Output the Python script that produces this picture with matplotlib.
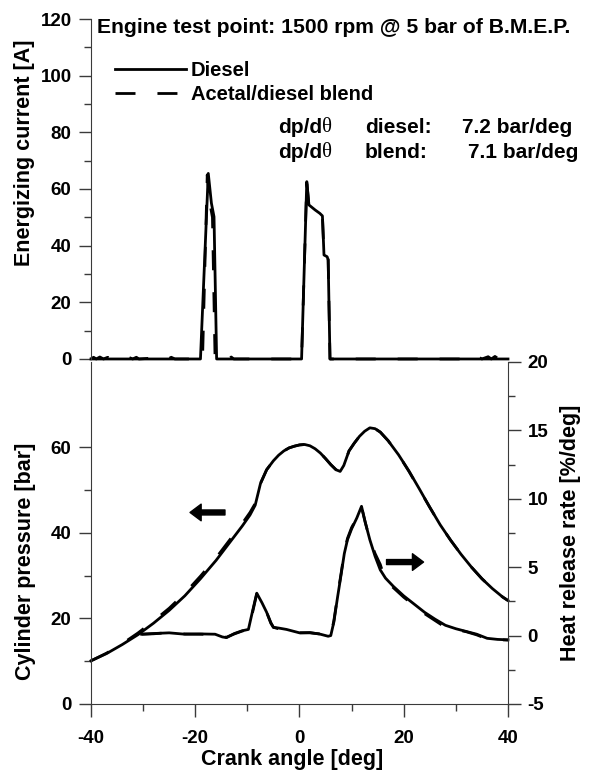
import matplotlib
matplotlib.use('Agg')
import matplotlib.pyplot as plt
from matplotlib.lines import Line2D

plt.rcParams['font.family'] = ['Liberation Sans', 'DejaVu Sans']
plt.rcParams['font.weight'] = 'bold'
plt.rcParams['axes.unicode_minus'] = False

# energizing current [A] vs crank angle [deg]
cur_x_diesel = [-40, -19.0, -17.5, -16.9, -16.4, -15.9, 0.4, 1.4, 1.8, 3.0, 3.9, 4.4, 4.7, 5.3, 5.5, 5.85, 40]
cur_y_diesel = [0, 0, 65.5, 55, 50.2, 0, 0, 62.6, 54.4, 52.6, 51.4, 50.5, 36.7, 36.1, 35.0, 0, 0]

cur_x_blend = [-40, -39.5, -39, -38.3, -37.6, -36.8, -36, -35, -34.6, -32.8, -32, -31.3, -30.8,
               -25.8, -25.2, -24.6, -23.9, -18.6, -17.7, -17.2, -16.7, -16.2, -14.5, -14, -13.5,
               -13.1, -12.6, 0.4, 1.4, 1.8, 3.0, 3.9, 4.4, 4.7, 5.3, 5.5, 5.85, 32.3, 33, 33.6,
               34.3, 35, 36.2, 36.8, 37.5, 38.2, 39, 40]
cur_y_blend = [0, 0.6, 0, 0.7, 0, 0.6, 0, 0.5, 0, 0.6, 0, 0.6, 0,
               0.6, 0, 0.6, 0, 0, 65, 55, 50, 0, 0, 0.7, 0,
               0.7, 0, 0, 62.6, 54.4, 52.6, 51.4, 50.5, 36.7, 36.1, 35.0, 0, 0, 0.7, 0,
               0.7, 0, 0.8, 0, 0.9, 0, 0.7, 0]

# cylinder pressure [bar]
p_x = [-40, -37, -34, -31, -28, -25, -22, -19, -16, -13, -11, -9.5, -8.5, -8.0, -7.5, -6.3,
       -5, -4, -3, -2, -1, 0, 1, 2, 3, 4, 5, 6, 7, 7.8, 8.5, 9.5, 10.5, 11.5, 12.5, 13.5,
       14.5, 15.5, 17, 19, 21, 23, 25, 27, 29, 31, 33, 35, 37, 39, 40]
p_diesel = [10.1, 11.8, 13.9, 16.2, 18.9, 21.9, 25.3, 29.3, 33.6, 38.4, 41.6, 44.2, 46.5, 49.0,
            51.5, 54.8, 56.9, 58.2, 59.2, 59.9, 60.3, 60.6, 60.7, 60.4, 59.7, 58.7, 57.4, 56.0,
            54.8, 54.4, 55.8, 59.2, 61.0, 62.6, 63.8, 64.6, 64.4, 63.6, 61.6, 58.3, 54.5, 50.3,
            46.0, 41.9, 38.3, 35.0, 32.0, 29.3, 27.0, 25.0, 24.2]
p_blend = [10.1, 11.9, 14.1, 16.6, 19.4, 22.4, 25.9, 29.9, 34.2, 39.0, 42.2, 44.8, 46.9, 49.2,
           51.6, 54.8, 56.9, 58.2, 59.2, 59.9, 60.3, 60.6, 60.7, 60.4, 59.7, 58.7, 57.4, 56.0,
           54.8, 54.5, 55.9, 59.2, 61.0, 62.6, 63.8, 64.5, 64.4, 63.6, 61.6, 58.3, 54.4, 50.2,
           46.0, 41.9, 38.3, 35.0, 32.0, 29.3, 27.0, 25.0, 24.2]

# heat release rate [%/deg]
h_x = [-30.3, -28, -25, -22, -19, -16.2, -14.8, -14, -12.5, -11, -9.8, -9.0, -8.2, -7.2, -6.3,
       -5.5, -5.0, -4, -2.5, 0, 2, 4, 5.5, 6.0, 6.6, 7.3, 8.0, 8.6, 9.2, 10, 11, 11.9, 12.6,
       13.5, 14.5, 15.5, 16.5, 18, 20, 22, 24, 26, 28, 30, 32, 34, 36, 38, 40]
h_diesel = [0.10, 0.15, 0.20, 0.10, 0.12, 0.10, -0.10, -0.15, 0.15, 0.35, 0.45, 1.8, 3.1, 2.4,
            1.7, 0.9, 0.6, 0.55, 0.45, 0.2, 0.22, 0.1, -0.05, 0.0, 1.0, 2.8, 4.5, 6.0, 7.0,
            7.8, 8.6, 9.45, 8.3, 7.0, 5.8, 4.8, 4.2, 3.6, 2.9, 2.3, 1.7, 1.2, 0.75, 0.5, 0.3,
            0.1, -0.2, -0.28, -0.31]
h_blend = [0.10, 0.13, 0.22, 0.12, 0.10, 0.08, -0.08, -0.12, 0.12, 0.33, 0.45, 1.7, 3.05, 2.35,
           1.7, 0.95, 0.6, 0.5, 0.45, 0.2, 0.2, 0.12, -0.03, 0.0, 1.1, 2.9, 4.6, 6.1, 7.1,
           7.9, 8.6, 9.4, 8.3, 7.0, 6.0, 5.2, 4.0, 3.5, 2.8, 2.2, 1.6, 1.1, 0.6, 0.45, 0.28,
           0.05, -0.25, -0.3, -0.33]

LW = 2.0
DASH = (7.2, 7.9)
SP = '#3a3a3a'
FS = 15.0
TS = 13.5

fig = plt.figure(figsize=(5.94, 7.73), dpi=100)
axt = fig.add_axes([0.1532, 0.5356, 0.702, 0.4398])
axb = fig.add_axes([0.1532, 0.0893, 0.702, 0.4424])
axh = axb.twinx()

# ---- top panel: energizing current
axt.plot(cur_x_blend, cur_y_blend, color='black', lw=LW, dashes=DASH, clip_on=False)
axt.plot(cur_x_diesel, cur_y_diesel, color='black', lw=LW, clip_on=False)
axt.set_xlim(-40, 40)
axt.set_ylim(0, 120)
for s in ['top', 'right', 'bottom']:
    axt.spines[s].set_visible(False)
axt.spines['left'].set_color(SP)
axt.set_xticks([])
axt.set_yticks(range(0, 121, 20))
axt.set_yticks(range(10, 120, 20), minor=True)
axt.tick_params(axis='y', which='major', direction='out', length=9, width=1, color=SP,
                labelsize=TS, pad=5)
axt.tick_params(axis='y', which='minor', direction='out', length=5, width=1, color=SP)
axt.set_ylabel('Energizing current [A]', fontsize=15.5, fontweight='bold')
axt.yaxis.set_label_coords(-0.134, 0.606)

axt.text(0.0144, 0.974, 'Engine test point: 1500 rpm @ 5 bar of B.M.E.P.',
         transform=axt.transAxes, ha='left', va='center', fontsize=15.2)

handles = [Line2D([], [], color='black', lw=LW),
           Line2D([], [], color='black', lw=LW, dashes=DASH)]
axt.legend(handles, ['Diesel', 'Acetal/diesel blend'], loc='upper left',
           bbox_to_anchor=(0.0576, 0.876), frameon=False, fontsize=14.5,
           handlelength=3.5, handletextpad=0.25, labelspacing=0.25,
           borderpad=0, borderaxespad=0)

for yy, name, val, xv in [(0.682, 'diesel:', '7.2 bar/deg', 0.8897),
                          (0.606, 'blend:', '7.1 bar/deg', 0.904)]:
    t = axt.text(0.4484, yy, 'dp/d', transform=axt.transAxes, ha='left', va='center',
                 fontsize=FS)
    axt.annotate('θ', xy=(1, 0), xycoords=t, ha='left', va='bottom', fontsize=FS,
                 fontfamily='Liberation Serif', fontweight='normal')
    axt.text(0.657, yy, name, transform=axt.transAxes, ha='left', va='center', fontsize=FS)
    axt.text(xv, yy, val, transform=axt.transAxes, ha='left', va='center', fontsize=FS)

# ---- bottom panel: cylinder pressure and heat release rate
axb.plot(p_x, p_blend, color='black', lw=LW, dashes=DASH, clip_on=False)
axb.plot(p_x, p_diesel, color='black', lw=LW, clip_on=False)
axh.plot(h_x, h_blend, color='black', lw=LW, dashes=DASH, clip_on=False)
axh.plot(h_x, h_diesel, color='black', lw=LW, clip_on=False)

axb.set_xlim(-40, 40)
axb.set_ylim(0, 80)
axh.set_ylim(-5, 20)
for a in (axb, axh):
    a.spines['top'].set_visible(False)
    for s in ['left', 'right', 'bottom']:
        a.spines[s].set_color(SP)
axb.spines['right'].set_visible(False)
axh.spines['left'].set_visible(False)
axh.spines['bottom'].set_visible(False)

axb.set_xticks(range(-40, 41, 20))
axb.set_xticks(range(-30, 40, 20), minor=True)
axb.set_yticks(range(0, 61, 20))
axb.set_yticks(range(10, 60, 20), minor=True)
axh.set_yticks(range(-5, 21, 5))
axh.set_yticks([-2.5, 2.5, 7.5, 12.5, 17.5], minor=True)
axb.tick_params(which='major', direction='out', length=9, width=1, color=SP,
                labelsize=TS, pad=5)
axb.tick_params(axis='x', which='major', pad=10)
axb.tick_params(which='minor', direction='out', length=5, width=1, color=SP)
axh.tick_params(which='major', direction='out', length=9, width=1, color=SP,
                labelsize=TS, pad=5)
axh.tick_params(which='minor', direction='out', length=5, width=1, color=SP)

axb.set_xlabel('Crank angle [deg]', fontsize=15.5, fontweight='bold')
axb.xaxis.set_label_coords(0.482, -0.1316)
axb.set_ylabel('Cylinder pressure [bar]', fontsize=15.5, fontweight='bold')
axb.yaxis.set_label_coords(-0.132, 0.418)
axh.set_ylabel('Heat release rate [%/deg]', fontsize=15.5, fontweight='bold')
axh.yaxis.set_label_coords(1.125, 0.5)

arrow = dict(arrowstyle='simple,head_length=0.4,head_width=0.6,tail_width=0.18',
             mutation_scale=20, color='black', shrinkA=0, shrinkB=0)
axb.annotate('', xy=(-21.0, 44.8), xytext=(-14.3, 44.8), arrowprops=arrow)
axb.annotate('', xy=(23.8, 33.2), xytext=(16.7, 33.2), arrowprops=arrow)

fig.savefig('out.png', dpi=100)
